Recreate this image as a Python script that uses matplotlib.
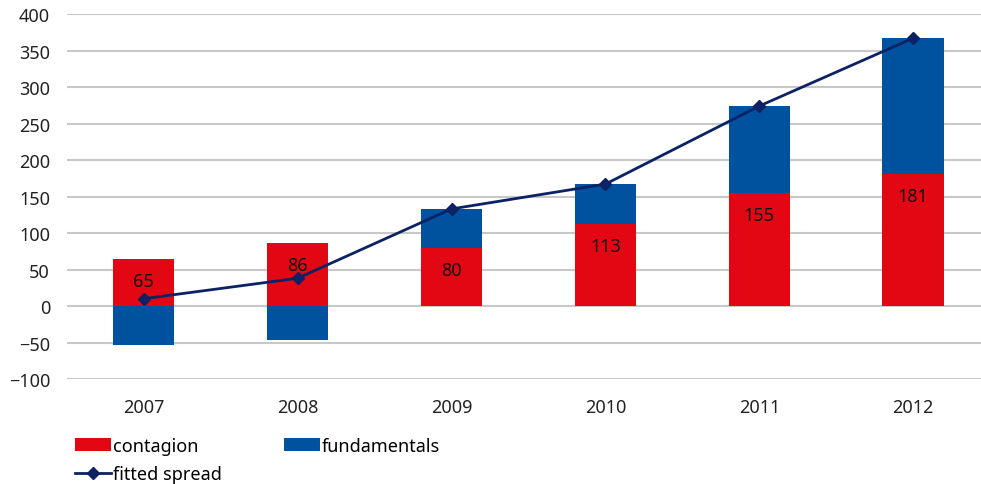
import matplotlib
matplotlib.use("Agg")
import matplotlib.pyplot as plt
import numpy as np

years = ["2007", "2008", "2009", "2010", "2011", "2012"]
contagion = [65, 86, 80, 113, 155, 181]
fundamentals = [-54, -47, 53, 54, 119, 186]
fitted_spread = [10, 38, 133, 167, 274, 367]

red = "#E30613"
blue = "#00529F"
navy = "#0B2265"

plt.rcParams['font.family'] = ['Noto Sans', 'DejaVu Sans']

fig = plt.figure(figsize=(9.81, 4.85), dpi=100)
ax = fig.add_axes([0.068, 0.2165, 0.932, 0.7525])

x = np.arange(len(years))
c = np.array(contagion)
f = np.array(fundamentals)
# positive fundamentals sit on top of contagion, negative ones go below zero
f_bottom = np.where(f >= 0, c, 0)

ax.bar(x, c, width=0.4, color=red, zorder=2, label="contagion")
ax.bar(x, f, width=0.4, bottom=f_bottom, color=blue, zorder=2, label="fundamentals")
ax.plot(x, fitted_spread, color=navy, lw=2, marker="D", ms=6, zorder=3, label="fitted spread")

# labels near the inside end of the red bars
for xi, v in zip(x, contagion):
    ax.annotate(str(v), (xi, v), xytext=(0, -16), textcoords="offset points",
                ha="center", va="center", fontsize=13, color="#111111", zorder=4)

ax.set_ylim(-100, 400)
ax.set_xlim(-0.5, 5.44)
ax.set_yticks(np.arange(-100, 401, 50))
ax.set_xticks(x)
ax.set_xticklabels(years)
ax.tick_params(length=0, labelsize=13, colors="#222222")
ax.tick_params(axis="y", pad=12)
ax.tick_params(axis="x", pad=14)
ax.grid(axis="y", color="#C8C8C8", lw=1.5, zorder=0)
for s in ax.spines.values():
    s.set_visible(False)

h, l = ax.get_legend_handles_labels()
# order so rows read: contagion, fundamentals / fitted spread
order = [l.index("contagion"), l.index("fitted spread"), l.index("fundamentals")]
fig.legend([h[i] for i in order], [l[i] for i in order], ncol=2,
           loc="lower left", bbox_to_anchor=(0.065, -0.02), frameon=False,
           fontsize=13, handlelength=2.0, handletextpad=0.1,
           columnspacing=3.45, labelspacing=0.55, borderaxespad=0.2)

fig.savefig("out.png", dpi=100)
